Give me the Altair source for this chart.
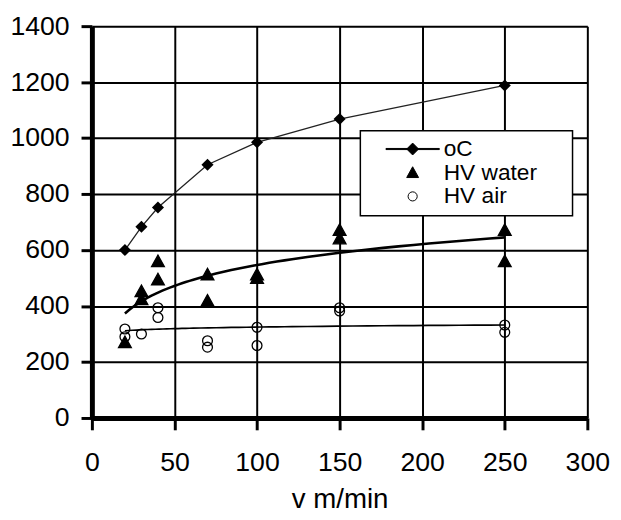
import altair as alt
import pandas as pd

# --- data ---
v_oc = [20, 30, 40, 70, 100, 150, 250]
oc = [600, 683, 752, 905, 985, 1068, 1188]

water_v = [20, 30, 30, 40, 40, 70, 70, 100, 100, 150, 150, 250, 250]
water = [270, 452, 424, 559, 494, 512, 418, 512, 500, 671, 641, 671, 559]

air_v = [20, 20, 30, 40, 40, 70, 70, 100, 100, 150, 150, 250, 250]
air = [318, 290, 300, 394, 359, 276, 253, 324, 259, 394, 382, 332, 306]

series_names = ["oC", "HV water", "HV air"]
x_ticks = [0, 50, 100, 150, 200, 250, 300]
y_ticks = [0, 200, 400, 600, 800, 1000, 1200, 1400]

FONT = "Liberation Sans"

df_oc = pd.DataFrame({"v": v_oc, "val": oc})
df_pts = pd.DataFrame({
    "v": water_v + air_v,
    "val": water + air,
    "series": ["HV water"] * len(water) + ["HV air"] * len(air),
})

# custom legend / point symbols (unit = sqrt(size)/2)
oc_path = "M-3.86,-0.08 L3.86,-0.08 L3.86,0.08 L-3.86,0.08 Z M0,-0.86 L0.86,0 L0,0.86 L-0.86,0 Z"
tri_path = "M0,-0.86 L0.86,0.7 L-0.86,0.7 Z"
circ_path = "M0.66,0 A0.66,0.66 0 1,1 -0.66,0 A0.66,0.66 0 1,1 0.66,0 Z"

xs = alt.Scale(domain=[0, 300], nice=False)
ys = alt.Scale(domain=[0, 1400], nice=False)

x_enc = alt.X("v:Q", scale=xs, axis=alt.Axis(values=x_ticks, format="d", title="v m/min"))
y_enc = alt.Y("val:Q", scale=ys, axis=alt.Axis(values=y_ticks, format="d", title=None))

oc_line = alt.Chart(df_oc).mark_line(color="#222222", strokeWidth=1.3).encode(x=x_enc, y=y_enc)
oc_pts = alt.Chart(df_oc).mark_point(shape="diamond", filled=True, size=150, color="black", opacity=1).encode(x=x_enc, y=y_enc)

water_fit = alt.Chart(df_pts).transform_filter(alt.datum.series == "HV water").transform_regression(
    "v", "val", method="log"
).mark_line(color="black", strokeWidth=2.6).encode(x=x_enc, y=y_enc)

air_fit = alt.Chart(df_pts).transform_filter(alt.datum.series == "HV air").transform_regression(
    "v", "val", method="log"
).mark_line(color="black", strokeWidth=1.7).encode(x=x_enc, y=y_enc)

legend = alt.Legend(
    title=" ", titleOrient="right", titlePadding=29, titleFontSize=2,
    orient="none", legendX=272, legendY=106,
    symbolSize=196, symbolStrokeWidth=1, symbolOffset=34.5,
    labelFont=FONT, labelFontSize=23, labelColor="black", labelOffset=20,
    rowPadding=0, padding=7, fillColor="white", strokeColor="black", zindex=3,
)

pts = alt.Chart(df_pts).mark_point(size=228, strokeWidth=1.3, opacity=1).encode(
    x=x_enc, y=y_enc,
    shape=alt.Shape("series:N", scale=alt.Scale(domain=series_names, range=[oc_path, tri_path, circ_path]), legend=legend),
    fill=alt.Fill("series:N", scale=alt.Scale(domain=series_names, range=["black", "black", "transparent"]), legend=legend),
    stroke=alt.Stroke("series:N", scale=alt.Scale(domain=series_names, range=["black", "black", "black"]), legend=legend),
)

chart = alt.layer(oc_line, water_fit, air_fit, oc_pts, pts).properties(
    width=502, height=397, autosize="none",
    padding={"left": 85, "top": 15, "right": 26, "bottom": 100},
).configure_view(strokeWidth=0).configure_axis(
    grid=True, gridColor="black", gridWidth=2, gridOpacity=1,
    domainColor="black", domainWidth=5, tickColor="black", tickWidth=3,
    labelFont=FONT, labelFontSize=27, labelColor="black",
    labelFlush=False, labelOverlap=False,
    titleFont=FONT, titleFontSize=28, titleFontWeight="normal", titleColor="black",
).configure_axisX(
    tickSize=12, labelPadding=20, titlePadding=11,
).configure_axisY(
    tickSize=11, labelPadding=12,
).configure_legend(strokeWidth=1.5)

chart.save("out.html", embed_options={"renderer": "svg", "actions": False})
